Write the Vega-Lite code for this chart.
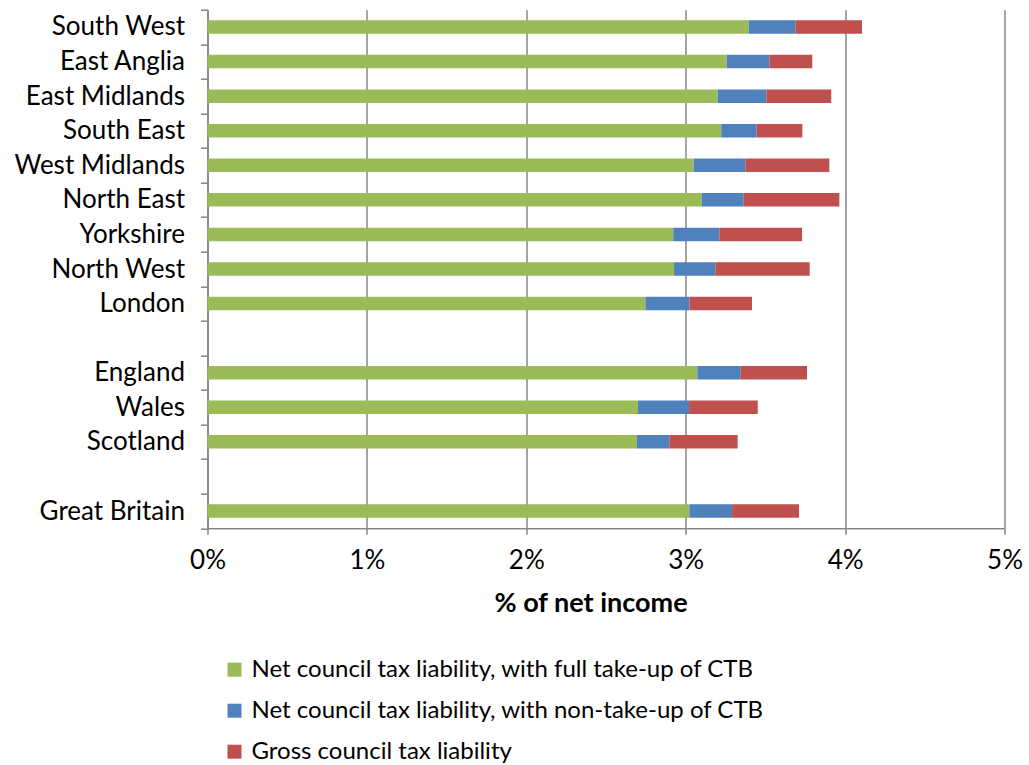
{
  "$schema": "https://vega.github.io/schema/vega-lite/v6.json",
  "autosize": "none",
  "width": 797,
  "height": 518.6,
  "padding": {"left": 207.5, "top": 9.7, "right": 24.5, "bottom": 236.7},
  "background": "white",
  "config": {
    "view": {"stroke": null},
    "font": "Lato"
  },
  "data": {
    "values": [
      {"region": "South West", "series": "Net council tax liability, with full take-up of CTB", "k": 1, "v": 3.395},
      {"region": "South West", "series": "Net council tax liability, with non-take-up of CTB", "k": 2, "v": 0.293},
      {"region": "South West", "series": "Gross council tax liability", "k": 3, "v": 0.418},
      {"region": "East Anglia", "series": "Net council tax liability, with full take-up of CTB", "k": 1, "v": 3.257},
      {"region": "East Anglia", "series": "Net council tax liability, with non-take-up of CTB", "k": 2, "v": 0.268},
      {"region": "East Anglia", "series": "Gross council tax liability", "k": 3, "v": 0.269},
      {"region": "East Midlands", "series": "Net council tax liability, with full take-up of CTB", "k": 1, "v": 3.201},
      {"region": "East Midlands", "series": "Net council tax liability, with non-take-up of CTB", "k": 2, "v": 0.305},
      {"region": "East Midlands", "series": "Gross council tax liability", "k": 3, "v": 0.407},
      {"region": "South East", "series": "Net council tax liability, with full take-up of CTB", "k": 1, "v": 3.223},
      {"region": "South East", "series": "Net council tax liability, with non-take-up of CTB", "k": 2, "v": 0.222},
      {"region": "South East", "series": "Gross council tax liability", "k": 3, "v": 0.287},
      {"region": "West Midlands", "series": "Net council tax liability, with full take-up of CTB", "k": 1, "v": 3.050},
      {"region": "West Midlands", "series": "Net council tax liability, with non-take-up of CTB", "k": 2, "v": 0.324},
      {"region": "West Midlands", "series": "Gross council tax liability", "k": 3, "v": 0.527},
      {"region": "North East", "series": "Net council tax liability, with full take-up of CTB", "k": 1, "v": 3.100},
      {"region": "North East", "series": "Net council tax liability, with non-take-up of CTB", "k": 2, "v": 0.264},
      {"region": "North East", "series": "Gross council tax liability", "k": 3, "v": 0.600},
      {"region": "Yorkshire", "series": "Net council tax liability, with full take-up of CTB", "k": 1, "v": 2.922},
      {"region": "Yorkshire", "series": "Net council tax liability, with non-take-up of CTB", "k": 2, "v": 0.289},
      {"region": "Yorkshire", "series": "Gross council tax liability", "k": 3, "v": 0.519},
      {"region": "North West", "series": "Net council tax liability, with full take-up of CTB", "k": 1, "v": 2.927},
      {"region": "North West", "series": "Net council tax liability, with non-take-up of CTB", "k": 2, "v": 0.259},
      {"region": "North West", "series": "Gross council tax liability", "k": 3, "v": 0.592},
      {"region": "London", "series": "Net council tax liability, with full take-up of CTB", "k": 1, "v": 2.747},
      {"region": "London", "series": "Net council tax liability, with non-take-up of CTB", "k": 2, "v": 0.276},
      {"region": "London", "series": "Gross council tax liability", "k": 3, "v": 0.393},
      {"region": "England", "series": "Net council tax liability, with full take-up of CTB", "k": 1, "v": 3.073},
      {"region": "England", "series": "Net council tax liability, with non-take-up of CTB", "k": 2, "v": 0.270},
      {"region": "England", "series": "Gross council tax liability", "k": 3, "v": 0.418},
      {"region": "Wales", "series": "Net council tax liability, with full take-up of CTB", "k": 1, "v": 2.701},
      {"region": "Wales", "series": "Net council tax liability, with non-take-up of CTB", "k": 2, "v": 0.320},
      {"region": "Wales", "series": "Gross council tax liability", "k": 3, "v": 0.431},
      {"region": "Scotland", "series": "Net council tax liability, with full take-up of CTB", "k": 1, "v": 2.694},
      {"region": "Scotland", "series": "Net council tax liability, with non-take-up of CTB", "k": 2, "v": 0.203},
      {"region": "Scotland", "series": "Gross council tax liability", "k": 3, "v": 0.429},
      {"region": "Great Britain", "series": "Net council tax liability, with full take-up of CTB", "k": 1, "v": 3.023},
      {"region": "Great Britain", "series": "Net council tax liability, with non-take-up of CTB", "k": 2, "v": 0.268},
      {"region": "Great Britain", "series": "Gross council tax liability", "k": 3, "v": 0.420}
    ]
  },
  "mark": {"type": "bar", "height": {"band": 0.39}},
  "encoding": {
    "y": {
      "field": "region",
      "type": "nominal",
      "scale": {
        "domain": ["South West", "East Anglia", "East Midlands", "South East", "West Midlands", "North East", "Yorkshire", "North West", "London", " ", "England", "Wales", "Scotland", "  ", "Great Britain"],
        "paddingInner": 0,
        "paddingOuter": 0
      },
      "axis": {
        "title": null,
        "tickBand": "extent",
        "domainColor": "#868686",
        "domainWidth": 1.5,
        "tickColor": "#868686",
        "tickWidth": 1.5,
        "tickSize": 7,
        "labelFontSize": 26,
        "labelColor": "#000000",
        "labelPadding": 16,
        "labelLimit": 300,
        "grid": false
      }
    },
    "x": {
      "field": "v",
      "type": "quantitative",
      "stack": "zero",
      "scale": {"domain": [0, 5], "nice": false},
      "axis": {
        "title": "% of net income",
        "titleFontSize": 27,
        "titleFontWeight": "bold",
        "titleColor": "#000000",
        "titlePadding": 17,
        "titleX": 383,
        "values": [0, 1, 2, 3, 4, 5],
        "labelExpr": "datum.value + '%'",
        "labelFontSize": 26,
        "labelColor": "#000000",
        "labelPadding": 13,
        "labelFlush": false,
        "domainColor": "#868686",
        "domainWidth": 1.5,
        "tickColor": "#868686",
        "tickWidth": 1.5,
        "tickSize": 6,
        "grid": true,
        "gridColor": "#868686",
        "gridWidth": 1.5
      }
    },
    "color": {
      "field": "series",
      "type": "nominal",
      "scale": {
        "domain": ["Net council tax liability, with full take-up of CTB", "Net council tax liability, with non-take-up of CTB", "Gross council tax liability"],
        "range": ["#9BBB59", "#4F81BD", "#C0504D"]
      },
      "legend": {
        "title": null,
        "orient": "none",
        "legendX": 15,
        "legendY": 648,
        "direction": "vertical",
        "symbolType": "square",
        "symbolSize": 196,
        "symbolStrokeWidth": 0,
        "labelFontSize": 24,
        "labelColor": "#000000",
        "labelOffset": 5,
        "labelLimit": 700,
        "rowPadding": 17
      }
    },
    "order": {"field": "k", "type": "quantitative"}
  }
}
